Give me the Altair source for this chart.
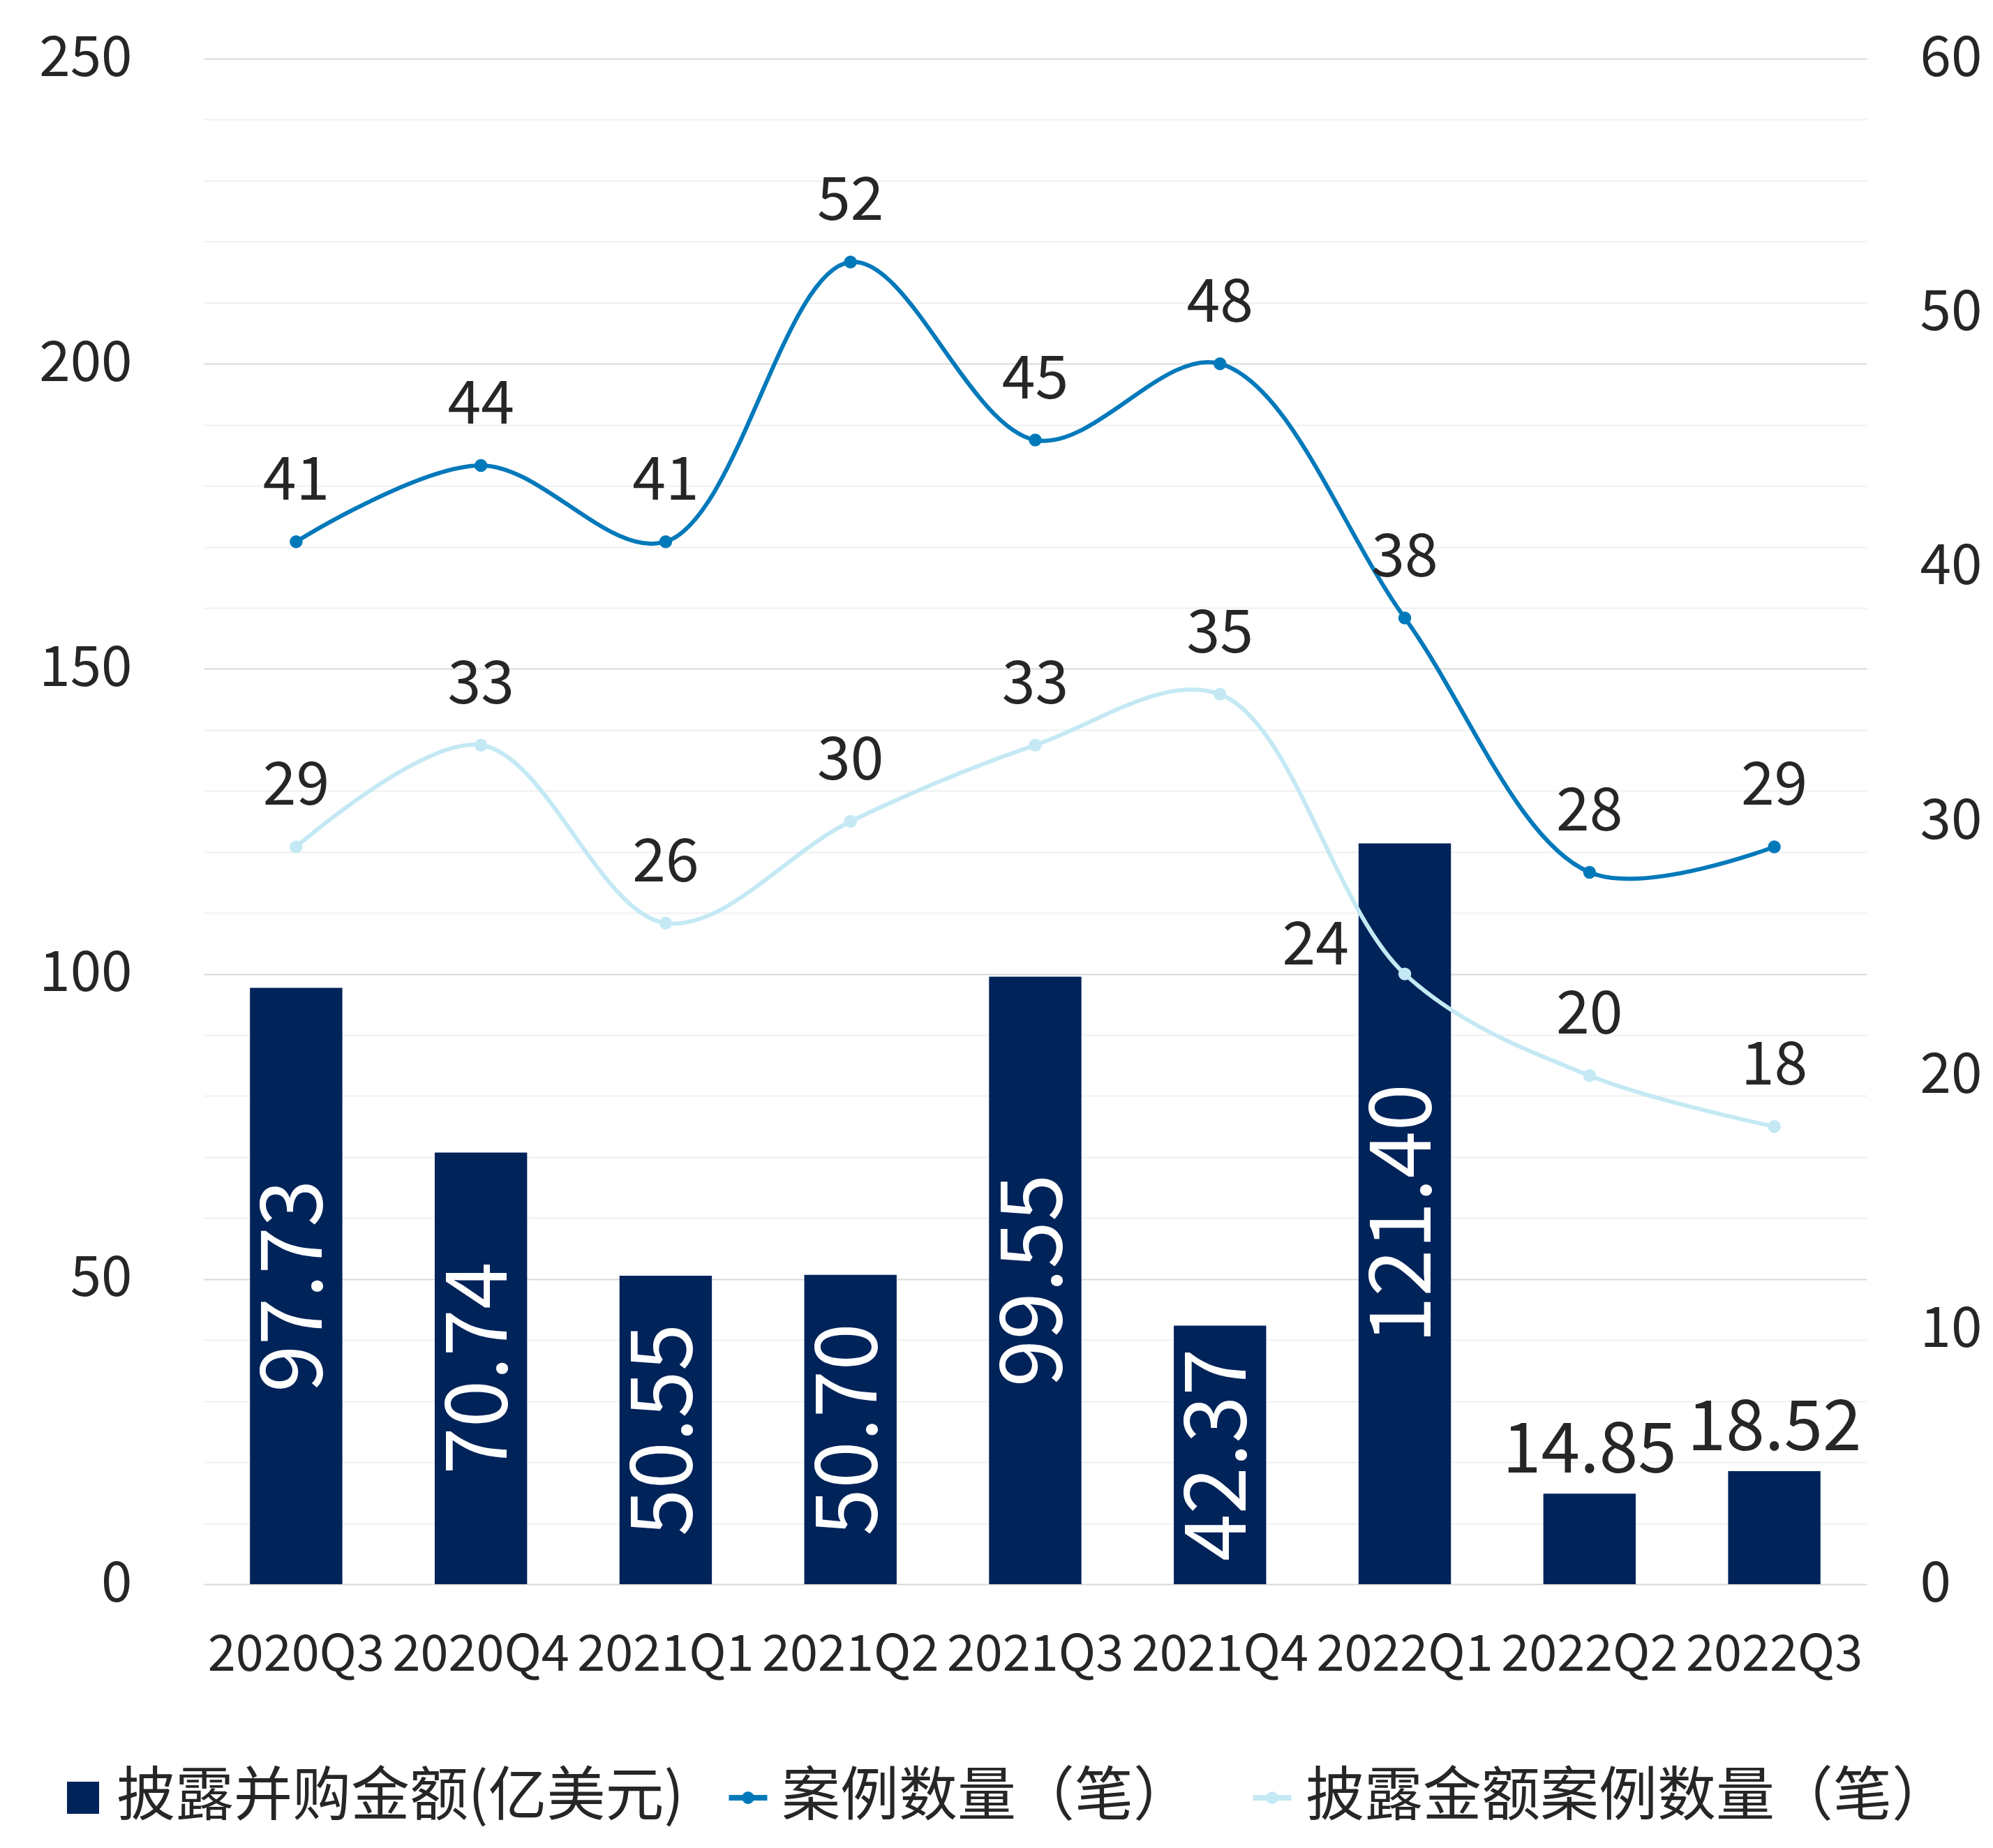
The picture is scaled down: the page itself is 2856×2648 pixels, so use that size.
import altair as alt
import pandas as pd

# ---- data ----
quarters = ["2020Q3", "2020Q4", "2021Q1", "2021Q2", "2021Q3",
            "2021Q4", "2022Q1", "2022Q2", "2022Q3"]
amounts = [97.73, 70.74, 50.55, 50.70, 99.55, 42.37, 121.40, 14.85, 18.52]
cases = [41, 44, 41, 52, 45, 48, 38, 28, 29]
disclosed = [29, 33, 26, 30, 33, 35, 24, 20, 18]
left_ticks = list(range(0, 251, 10))
right_ticks = [0, 10, 20, 30, 40, 50, 60]

S_BAR = "披露并购金额(亿美元)"
S_CASES = "案例数量（笔）"
S_DISC = "披露金额案例数量（笔）"

NAVY = "#00235a"
BLUE = "#0079ba"
LIGHT = "#c4e9f4"
TEXT = "#262626"
FONT = "Noto Sans CJK SC"

df = pd.DataFrame({"quarter": quarters, "amount": amounts,
                   "cases": cases, "disclosed": disclosed})
base = alt.Chart(df)

x_axis = alt.Axis(title=None, labelAngle=0, ticks=False, domain=False, grid=False,
                  labelFontSize=72, labelColor=TEXT, labelPadding=66,
                  labelOverlap=False, labelLimit=1000, labelFlush=False)
x = alt.X("quarter:N", sort=quarters,
          scale=alt.Scale(paddingInner=0.5, paddingOuter=0.25), axis=x_axis)

left_axis = alt.Axis(title=None, orient="left", values=left_ticks, ticks=False, domain=False,
                     grid=True, gridWidth=2,
                     gridColor=alt.condition("datum.value % 50 === 0",
                                             alt.value("#d9d9d9"), alt.value("#f0f0f0")),
                     labelExpr="datum.value % 50 === 0 ? datum.label : ''",
                     labelFontSize=80, labelColor=TEXT, labelPadding=103,
                     labelOverlap=False)
left_scale = alt.Scale(domain=[0, 250], nice=False, zero=True)

right_axis = alt.Axis(title=None, orient="right", values=right_ticks, ticks=False,
                      domain=False, grid=False, labelFontSize=80, labelColor=TEXT,
                      labelPadding=76, labelOverlap=False)
right_scale = alt.Scale(domain=[0, 60], nice=False, zero=True)

LEGEND_Y = 2450

# ---- bars (left axis) ----
bars = base.transform_calculate(series=f"'{S_BAR}'").mark_bar().encode(
    x=x,
    y=alt.Y("amount:Q", scale=left_scale, axis=left_axis),
    fill=alt.Fill("series:N", scale=alt.Scale(domain=[S_BAR], range=[NAVY]),
                  legend=alt.Legend(title=None, orient="none", legendX=-215, legendY=LEGEND_Y,
                                    symbolType="square", symbolSize=2116,
                                    labelFontSize=84, labelLimit=2000, labelOffset=6,
                                    labelColor=TEXT)),
)

bar_in = base.transform_filter("datum.amount > 30").transform_calculate(
    mid="datum.amount / 2"
).mark_text(angle=270, color="white", fontSize=122, baseline="middle", align="center").encode(
    x=x,
    y=alt.Y("mid:Q", scale=left_scale, axis=left_axis),
    text=alt.Text("amount:Q", format=".2f"),
)

bar_out = base.transform_filter("datum.amount <= 30").mark_text(
    color=TEXT, fontSize=100, baseline="alphabetic", align="center", dy=-30
).encode(
    x=x,
    y=alt.Y("amount:Q", scale=left_scale, axis=left_axis),
    text=alt.Text("amount:Q", format=".2f"),
)

left_group = alt.layer(bars, bar_in, bar_out)

# ---- lines (right axis) ----
lines = base.transform_fold(["cases", "disclosed"], as_=["key", "count"]).transform_calculate(
    series=f"datum.key === 'cases' ? '{S_CASES}' : '{S_DISC}'"
).mark_line(interpolate="catmull-rom", strokeWidth=6,
            point=alt.OverlayMarkDef(filled=True, size=340)).encode(
    x=x,
    y=alt.Y("count:Q", scale=right_scale, axis=right_axis),
    color=alt.Color("series:N", scale=alt.Scale(domain=[S_CASES, S_DISC], range=[BLUE, LIGHT]),
                    legend=alt.Legend(title=None, orient="none", direction="horizontal",
                                      legendX=738, legendY=LEGEND_Y,
                                      symbolType="M-1,0L1,0M-0.18,0A0.18,0.18,0,1,1,0.18,0A0.18,0.18,0,1,1,-0.18,0Z",
                                      symbolSize=3025, symbolStrokeWidth=8,
                                      labelFontSize=84, labelLimit=2000, labelOffset=6,
                                      columnPadding=70, labelColor=TEXT)),
)

case_labels = base.mark_text(color=TEXT, fontSize=86, baseline="alphabetic",
                             align="center", dy=-60).encode(
    x=x,
    y=alt.Y("cases:Q", scale=right_scale, axis=right_axis),
    text=alt.Text("cases:Q"),
)

disc_labels = base.transform_filter("datum.amount * 60 / 250 <= datum.disclosed").mark_text(
    color=TEXT, fontSize=86, baseline="alphabetic", align="center", dy=-60
).encode(
    x=x,
    y=alt.Y("disclosed:Q", scale=right_scale, axis=right_axis),
    text=alt.Text("disclosed:Q"),
)

disc_labels_side = base.transform_filter("datum.amount * 60 / 250 > datum.disclosed").mark_text(
    color=TEXT, fontSize=86, baseline="middle", align="right", dx=-80, dy=-40
).encode(
    x=x,
    y=alt.Y("disclosed:Q", scale=right_scale, axis=right_axis),
    text=alt.Text("disclosed:Q"),
)

right_group = alt.layer(lines, case_labels, disc_labels, disc_labels_side)

chart = alt.layer(left_group, right_group).resolve_scale(
    y="independent", fill="independent", color="independent"
).properties(
    width=2383, height=2186,
    padding={"left": 47, "top": 36, "right": 0, "bottom": 22},
    background="white",
).configure_view(stroke=None).configure_axis(
    labelFont=FONT
).configure_text(font=FONT).configure_legend(labelFont=FONT)

chart.save("out.html", embed_options={"renderer": "svg", "actions": False})
